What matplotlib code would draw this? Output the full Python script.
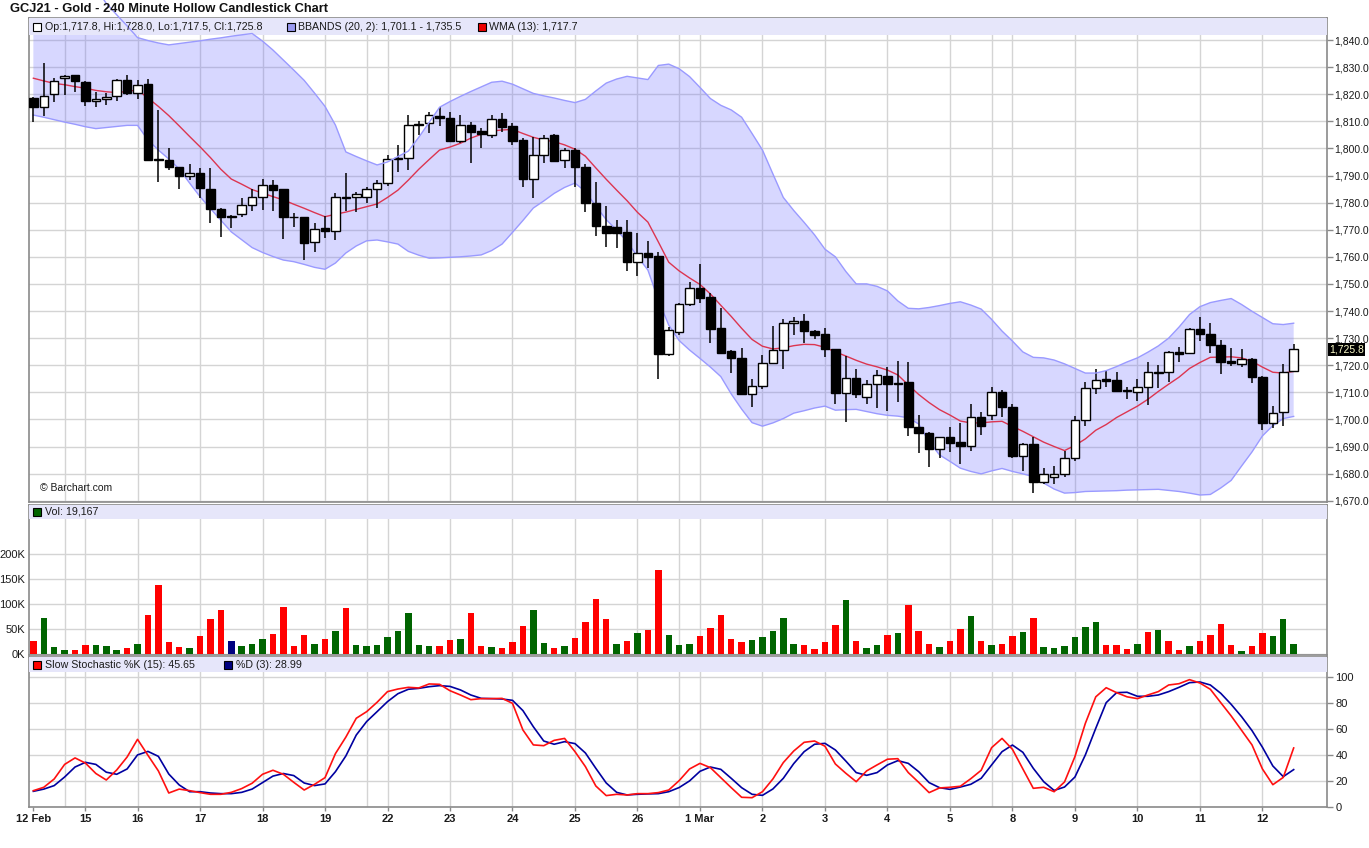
import matplotlib
matplotlib.use('Agg')
import matplotlib.pyplot as plt
from matplotlib.patches import Rectangle
from matplotlib.transforms import blended_transform_factory
from matplotlib.ticker import FuncFormatter, FixedLocator
import numpy as np

plt.rcParams['font.family'] = ['Liberation Sans', 'DejaVu Sans']

# ---------------- data ----------------
opens = [1818.5,1815.2,1820.0,1825.9,1827.0,1824.5,1817.5,1818.1,1819.4,1825.2,
 1820.6,1823.8,1795.8,1795.7,1793.0,1789.9,1790.8,1785.0,1777.5,1774.8,
 1775.7,1779.0,1782.2,1786.5,1784.9,1774.8,1774.6,1765.4,1770.5,1769.5,
 1782.2,1782.1,1782.0,1784.9,1787.1,1796.3,1796.3,1808.9,1809.3,1812.0,
 1811.1,1802.8,1808.5,1806.4,1804.8,1810.7,1808.3,1803.1,1788.8,1797.4,
 1804.9,1795.6,1799.4,1793.0,1779.7,1771.4,1771.0,1769.0,1758.2,1761.3,
 1760.3,1724.1,1732.4,1742.5,1748.4,1745.2,1733.6,1725.2,1722.5,1709.3,
 1712.5,1720.7,1725.6,1735.6,1736.3,1732.6,1731.4,1725.9,1709.6,1715.3,
 1708.3,1712.9,1716.0,1713.3,1713.7,1697.2,1695.0,1689.2,1693.4,1691.6,
 1690.3,1700.8,1701.5,1710.2,1704.7,1686.6,1690.9,1677.0,1678.9,1679.7,
 1685.6,1699.7,1711.5,1714.8,1714.5,1710.9,1710.2,1711.8,1717.2,1717.4,
 1724.9,1724.4,1733.2,1731.5,1727.3,1721.4,1720.4,1722.4,1715.5,1698.6,
 1702.8,1717.8]
highs = [1819.1,1831.6,1825.9,1827.1,1827.0,1824.9,1820.9,1820.6,1825.6,1827.1,
 1825.2,1825.6,1814.2,1800.0,1793.2,1794.2,1792.7,1792.7,1777.9,1775.4,
 1781.8,1784.9,1788.7,1788.3,1785.0,1776.2,1774.8,1772.4,1775.1,1783.7,
 1790.8,1784.0,1785.9,1788.3,1797.6,1801.3,1812.3,1810.2,1813.3,1815.2,
 1813.3,1812.3,1809.9,1807.4,1812.3,1812.9,1809.3,1803.7,1804.1,1804.9,
 1805.2,1800.0,1800.0,1794.2,1787.7,1778.7,1773.6,1773.6,1768.7,1765.8,
 1761.9,1734.2,1743.1,1750.8,1757.3,1746.5,1741.0,1725.6,1726.2,1714.8,
 1723.8,1734.5,1736.9,1737.9,1738.9,1733.0,1733.8,1725.9,1723.4,1718.6,
 1714.5,1718.2,1719.2,1721.6,1721.1,1701.6,1695.2,1693.6,1697.3,1698.6,
 1705.7,1702.8,1712.1,1710.8,1705.7,1691.2,1693.6,1681.9,1682.8,1688.5,
 1701.3,1713.8,1718.5,1717.8,1717.5,1712.1,1714.8,1721.3,1720.1,1725.3,
 1726.8,1733.6,1737.9,1735.5,1729.3,1726.2,1726.0,1722.7,1715.9,1705.1,
 1720.3,1728.0]
lows = [1809.9,1812.1,1817.2,1819.7,1820.9,1815.6,1815.4,1816.0,1817.6,1819.7,
 1818.2,1795.5,1787.7,1792.0,1784.9,1788.3,1781.6,1772.4,1767.4,1770.5,
 1774.8,1777.0,1777.3,1777.0,1766.5,1771.1,1758.8,1761.9,1766.8,1766.2,
 1777.0,1776.5,1780.0,1778.1,1786.1,1791.4,1792.0,1804.9,1805.6,1808.4,
 1802.5,1802.1,1794.5,1800.3,1803.9,1806.2,1801.3,1785.9,1781.8,1794.5,
 1795.1,1792.7,1785.6,1776.6,1767.8,1763.7,1763.1,1754.9,1753.0,1755.8,
 1714.8,1723.5,1731.1,1741.8,1743.1,1728.1,1724.1,1717.0,1709.3,1704.5,
 1711.1,1720.7,1718.6,1731.1,1728.3,1729.6,1723.1,1705.7,1699.2,1707.8,
 1705.7,1704.1,1703.2,1706.5,1693.9,1687.5,1682.6,1685.9,1688.1,1683.4,
 1688.5,1694.2,1699.8,1701.0,1685.6,1681.0,1672.9,1676.2,1676.2,1678.9,
 1684.8,1697.7,1709.4,1712.1,1710.2,1707.6,1706.9,1705.3,1711.5,1713.9,
 1721.3,1724.1,1728.9,1724.6,1716.6,1719.7,1719.2,1713.3,1696.1,1696.7,
 1697.7,1717.5]
closes = [1815.4,1819.4,1824.9,1826.6,1824.8,1817.6,1818.2,1818.9,1825.2,1820.6,
 1823.3,1795.7,1796.0,1793.2,1789.9,1790.9,1785.3,1777.7,1774.8,1775.0,
 1779.0,1782.2,1786.4,1784.6,1774.8,1774.6,1765.2,1770.1,1769.4,1782.2,
 1781.8,1783.1,1784.9,1787.1,1796.0,1796.0,1808.5,1808.5,1812.3,1811.1,
 1802.8,1808.5,1806.2,1805.2,1810.7,1808.0,1802.8,1788.8,1797.4,1803.7,
 1795.5,1799.3,1793.0,1779.7,1771.5,1768.9,1768.9,1758.2,1761.3,1759.8,
 1724.1,1733.0,1742.6,1748.4,1744.7,1733.5,1724.6,1722.8,1709.3,1712.5,
 1720.7,1725.6,1735.5,1736.4,1732.5,1731.0,1725.9,1709.9,1715.2,1709.3,
 1712.9,1716.3,1712.9,1712.9,1697.3,1694.8,1689.2,1693.4,1691.4,1690.3,
 1700.8,1697.7,1710.2,1704.5,1686.6,1690.8,1677.0,1679.7,1679.7,1685.6,
 1699.7,1711.5,1714.5,1714.2,1710.6,1710.6,1711.8,1717.4,1717.4,1724.8,
 1724.1,1733.2,1731.4,1727.3,1721.3,1720.9,1722.4,1715.5,1698.6,1702.5,
 1717.4,1725.8]

bb_upper = [1882.4,1878.7,1875.1,1871.4,1867.7,1864.0,1859.2,1853.5,1849.3,1845.2,
 1840.9,1839.8,1838.9,1838.2,1838.7,1839.2,1839.7,1840.3,1840.8,1841.4,
 1841.9,1842.4,1839.6,1836.3,1832.6,1828.9,1825.1,1820.4,1815.5,1808.6,
 1798.7,1797.0,1795.4,1793.9,1795.0,1797.0,1799.0,1804.1,1809.6,1815.2,
 1817.3,1819.2,1821.0,1822.7,1824.4,1824.8,1823.7,1822.0,1820.3,1819.4,
 1818.6,1817.7,1816.9,1818.1,1821.2,1824.1,1825.6,1826.6,1826.0,1825.4,
 1830.6,1831.1,1829.4,1826.5,1822.5,1818.4,1815.9,1814.2,1811.5,1805.5,
 1799.4,1790.6,1781.9,1777.1,1772.7,1768.1,1762.8,1760.0,1754.6,1750.0,
 1750.0,1749.1,1747.4,1743.7,1741.0,1740.8,1741.3,1742.0,1742.8,1743.4,
 1742.2,1740.7,1736.9,1732.6,1728.9,1724.9,1722.9,1722.7,1721.9,1720.5,
 1718.8,1717.1,1717.1,1718.0,1719.5,1721.2,1722.7,1724.8,1727.1,1730.0,
 1734.1,1738.7,1741.6,1743.1,1743.9,1744.6,1742.4,1739.9,1737.6,1735.3,
 1735.0,1735.5]
bb_lower = [1812.3,1811.5,1810.6,1809.7,1808.9,1808.0,1807.3,1807.7,1808.1,1808.5,
 1808.5,1803.1,1799.4,1796.1,1792.4,1787.2,1782.2,1777.8,1773.5,1769.2,
 1766.3,1763.4,1761.6,1760.1,1758.8,1758.2,1757.2,1756.1,1755.4,1757.7,
 1761.4,1764.0,1765.9,1766.2,1765.5,1764.7,1762.0,1760.6,1759.5,1759.6,
 1759.8,1760.0,1760.3,1760.7,1762.3,1764.7,1769.0,1773.4,1778.0,1780.6,
 1783.4,1785.6,1787.2,1784.1,1778.7,1773.7,1769.9,1765.6,1760.1,1755.1,
 1744.1,1734.8,1729.1,1725.6,1722.5,1719.3,1715.8,1709.4,1703.8,1698.8,
 1697.5,1698.7,1700.3,1702.3,1703.2,1704.2,1704.9,1703.4,1703.6,1703.7,
 1702.9,1702.1,1701.5,1701.2,1700.6,1698.3,1691.7,1686.9,1684.5,1682.0,
 1680.8,1679.9,1681.0,1681.9,1680.8,1679.9,1678.9,1676.5,1674.3,1672.8,
 1673.0,1673.4,1673.5,1673.6,1673.7,1673.9,1674.0,1674.1,1674.2,1673.8,
 1673.4,1672.8,1672.1,1672.3,1674.7,1677.5,1682.8,1688.0,1693.9,1697.7,
 1700.3,1701.1]
wma13 = [1825.9,1824.9,1824.0,1823.5,1822.8,1822.2,1821.4,1820.9,1820.6,1821.0,
 1821.6,1818.6,1815.5,1812.1,1808.3,1804.4,1800.6,1796.6,1792.3,1788.7,
 1786.8,1784.8,1783.5,1782.2,1781.0,1779.4,1777.9,1776.3,1774.8,1775.7,
 1776.5,1777.5,1778.5,1779.5,1781.9,1784.6,1788.3,1792.3,1795.9,1799.4,
 1800.5,1801.9,1803.8,1805.2,1806.4,1806.8,1807.0,1805.5,1804.1,1803.1,
 1802.5,1801.3,1799.7,1797.1,1792.8,1788.6,1784.6,1780.7,1776.4,1772.8,
 1765.5,1758.0,1754.8,1752.2,1749.8,1746.3,1742.1,1738.0,1733.6,1729.5,
 1727.0,1726.0,1726.4,1727.2,1727.7,1727.6,1726.6,1724.9,1723.4,1721.8,
 1720.4,1719.4,1718.2,1716.4,1712.7,1709.2,1706.2,1703.6,1701.6,1699.4,
 1698.7,1698.7,1699.1,1699.3,1697.4,1695.6,1693.6,1691.6,1690.0,1688.5,
 1690.4,1692.8,1696.0,1698.1,1700.7,1702.8,1704.9,1707.4,1710.3,1713.0,
 1715.6,1718.8,1721.0,1722.9,1723.0,1723.1,1722.7,1721.4,1719.3,1717.4,
 1717.1,1717.7]

volume_k = [26,72,14,8,8,18,18,16,8,12, 20,78,138,24,15,12,36,70,88,26,
 16,20,30,40,94,16,38,20,30,46, 92,18,16,18,34,46,82,18,16,16,
 28,30,82,16,14,12,24,56,88,22, 12,16,32,64,110,70,20,26,42,48,
 168, 38,18,20,36,52,78,30,24,28, 34,46,72,20,18,10,24,58,108,26,
 12,18,38,42,98,46,20,14,26,50, 76,26,18,20,36,44,72,14,12,16,
 34,54,64,18,18,10,20,44,48,26, 8,16,26,38,60,18,6,16,42,36, 70,19.2]
# u = up (green), d = down (red), n = unchanged (navy)
volume_dir = ("duuudduuud" "uddddudddn" "uuuddddudu" "duuuuuuuud" "duddudddu u".replace(" ", "")
              + "duddddudud" "d" "uuudddddu" "u" "uuuddddudu" "ududddudd" "u"
              + "dudduduuuu" "uudddudud" "d" "udddduddu" "uu")

stoch_k = [12.8,15.4,21.8,33,38,34,26,21,28.7,38.7, 52.3,40,28,11,14,12.8,11.3,10,10,11.5,
 14.4,18.5,25.4,28.5,25.4,19.2,13.3,17.7,22.8,41.3, 54,68.5,73.6,80.8,89,91,92.3,91.8,94.9,94.6,
 89.7,86.4,82.8,83.6,83.6,83.8,80,59.5,48,47.4, 51.5,53,42.8,31.3,16.4,9,10,9.5,10.5,10.5,
 11.3,13.3,20.5,
 29.5,33.8,30.5,22.8,15.1,7.7,7.4,12,21.8,34.4, 43.3,50,51,47,33.3,26.2,19.7,28,32.6,37,
 37.4,26.7,19.2,11.3,14.9,15.4,16.2,22,28.5,45.9, 53,44.6,29.5,14.6,15.4,12,19.5,39,64.6,85,
 92,88.2,85,83.6,86.4,89,94.1,95.1,98.2,95.6, 90.8,80.5,70.3,59.2,48,29.5,17.4,23,45.65]
stoch_d = [12.3,14,16.7,23.3,31,34.6,33,27,25.4,29.5, 40.3,43,39.2,25.6,17.2,12,12,11,10.5,10.5,
 11.5,14,19,24,26,24.4,18.7,16.7,18,27.4, 39.5,55.6,66,73.6,81.3,87.4,90.8,91.5,92.8,93.6,
 93,90.3,86.4,83.8,83.6,83.3,82.3,74.4,62,51, 48.5,50.5,49,41.8,30,18.7,11.5,9.5,10,10.3,
 10.5,12,15.2,
 20.3,27.7,31,29.2,22.3,15.1,10,9.2,14.1,22.3, 33.6,42.8,48.5,49.2,44.1,35.6,26.7,24.6,26.7,32.6,
 35.9,33.8,27.4,19,15.1,13.8,15.6,17.7,22.3,32.6, 42.8,47.9,42.3,30,19.7,13,15.6,23.3,40.3,60.8,
 80.5,88.2,88.5,85.4,85.4,86.4,89,92.3,95.9,96.4, 94.1,87.7,79.2,69.7,59,46.2,31.8,23.6,28.99]

day_labels = ['12 Feb','15','16','17','18','19','22','23','24','25','26',
              '1 Mar','2','3','4','5','8','9','10','11','12']
day_index = [0,5,10,16,22,28,34,40,46,52,58,64,70,76,82,88,94,100,106,112,118]
extra_grid_index = [3,32,62,92]

n = len(closes)
for arr in (opens, highs, lows, bb_upper, bb_lower, wma13, volume_k, stoch_k, stoch_d):
    assert len(arr) == n, len(arr)
assert len(volume_dir) == n, len(volume_dir)

# ---------------- layout ----------------
W, H = 1369, 848
fig = plt.figure(figsize=(W/100, H/100), dpi=100)
fig.patch.set_facecolor('white')

def rect(l, t, r, b):
    return [l/W, 1-b/H, (r-l)/W, (b-t)/H]

def px(x, y):
    return (x/W, 1-y/H)

ax1 = fig.add_axes(rect(29, 18, 1327, 502.3))
ax2 = fig.add_axes(rect(29, 505, 1327, 654.5))
ax3 = fig.add_axes(rect(29, 657.3, 1327, 807.3))

GRID = '#d4d4d4'
SPINE = '#8a8a8a'
TXT = '#1a1a1a'
STRIP = '#e6e6fa'
x = np.arange(n)
XLIM = (-0.42, 124.2)

for ax in (ax1, ax2, ax3):
    ax.set_xlim(*XLIM)
    for s in ax.spines.values():
        s.set_color(SPINE)
        s.set_linewidth(1.2)
    for d in day_index[1:] + extra_grid_index:
        ax.axvline(d, color=GRID, lw=1.0, zorder=0.5)

def strip(ax, frac):
    ax.add_patch(Rectangle((0, frac), 1, 1-frac, transform=ax.transAxes,
                           facecolor=STRIP, edgecolor='none', zorder=4))

# ---------- price panel ----------
ax1.set_ylim(1669.41, 1848.12)
for v in range(1670, 1850, 10):
    ax1.axhline(v, color=GRID, lw=1.0, zorder=0.5)
strip(ax1, 1-17/484.3)
ax1.fill_between(x, bb_lower, bb_upper, facecolor='#7070ff', alpha=0.28, lw=0, zorder=1)
ax1.plot(x, bb_lower, color='#9a9aff', lw=1.0, zorder=1.2)
ax1.plot(x, bb_upper, color='#9a9aff', lw=1.0, zorder=6, clip_on=False)
ax1.plot(x, wma13, color='#dc3550', lw=1.0, zorder=2)

o = np.array(opens); c = np.array(closes)
ax1.vlines(x, lows, highs, color='black', lw=1.1, zorder=2.5)
face = ['black' if cc < oo else 'white' for oo, cc in zip(o, c)]
ax1.bar(x, np.abs(c-o), bottom=np.minimum(o, c), width=0.82, color=face,
        edgecolor='black', linewidth=1.0, zorder=3)

ax1.yaxis.tick_right()
ax1.yaxis.set_major_locator(FixedLocator(list(range(1670, 1850, 10))))
ax1.yaxis.set_major_formatter(FuncFormatter(lambda v, p: f'{v:,.1f}'))
ax1.tick_params(axis='y', length=4, width=1, color=SPINE, labelsize=7.5, labelcolor=TXT, pad=1.5)
ax1.tick_params(axis='x', length=0, labelbottom=False)

tr = blended_transform_factory(ax1.transAxes, ax1.transData)
ax1.text(1.0015, closes[-1], f'{closes[-1]:,.1f}', transform=tr, va='center', ha='left',
         fontsize=7.5, color='#ffffcc', zorder=10, clip_on=False,
         bbox=dict(boxstyle='square,pad=0.12', fc='black', ec='none'))
fig.text(*px(40, 488), '\u00a9 Barchart.com', fontsize=7.5, color=TXT, va='center', ha='left')

# ---------- volume panel ----------
ax2.set_ylim(-1, 299)
for v in range(0, 201, 50):
    ax2.axhline(v, color=GRID, lw=1.0, zorder=0.5)
strip(ax2, 1-14/149.5)
vcol = {'u': '#006400', 'd': '#ff0000', 'n': '#000080'}
ax2.bar(x, volume_k, width=0.62, color=[vcol[ch] for ch in volume_dir], zorder=2)
ax2.yaxis.set_major_locator(FixedLocator([0, 50, 100, 150, 200]))
ax2.yaxis.set_major_formatter(FuncFormatter(lambda v, p: f'{int(v)}K'))
ax2.tick_params(axis='y', length=0, labelsize=8, labelcolor=TXT, pad=3)
ax2.tick_params(axis='x', length=0, labelbottom=False)

# ---------- stochastic panel ----------
ax3.set_ylim(0, 115.4)
for v in range(0, 101, 20):
    ax3.axhline(v, color=GRID, lw=1.0, zorder=0.5)
strip(ax3, 1-14.4/150)
ax3.plot(x, stoch_k, color='#ff1010', lw=1.2, zorder=3)
ax3.plot(x, stoch_d, color='#0000a0', lw=1.2, zorder=2.8)
ax3.yaxis.tick_right()
ax3.yaxis.set_major_locator(FixedLocator([0, 20, 40, 60, 80, 100]))
ax3.tick_params(axis='y', length=4, width=1, color=SPINE, labelsize=8, labelcolor=TXT, pad=2)
ax3.set_xticks(day_index)
ax3.set_xticklabels(day_labels, fontweight='bold', fontsize=8, color=TXT)
ax3.tick_params(axis='x', length=3, width=1, color=SPINE, pad=2)

# ---------- title & legends ----------
fig.text(*px(10, 8.5), 'GCJ21 - Gold - 240 Minute Hollow Candlestick Chart',
         fontsize=9.3, fontweight='bold', color='#111111', va='center', ha='left')

def key(cx, cy, color):
    fig.add_artist(Rectangle(px(cx-4, cy+4), 8/W, 8/H, transform=fig.transFigure,
                             facecolor=color, edgecolor='black', lw=0.8, zorder=5))

def label(x0, y0, s):
    fig.text(*px(x0, y0), s, fontsize=7.7, color=TXT, va='center', ha='left', zorder=6)

key(37, 27, 'white')
label(45, 27, f'Op:{opens[-1]:,.1f}, Hi:{highs[-1]:,.1f}, Lo:{lows[-1]:,.1f}, Cl:{closes[-1]:,.1f}')
key(291, 27, '#9999f0')
label(298, 27, f'BBANDS (20, 2): {bb_lower[-1]:,.1f} - {bb_upper[-1]:,.1f}')
key(482, 27, '#ee0000')
label(489, 27, f'WMA (13): {wma13[-1]:,.1f}')

key(37, 512, '#006400')
label(45, 512, 'Vol: 19,167')

key(37, 665, '#ff0000')
label(45, 665, f'Slow Stochastic %K (15): {stoch_k[-1]:.2f}')
key(228, 665, '#000080')
label(236, 665, f'%D (3): {stoch_d[-1]:.2f}')

fig.savefig('out.png', dpi=100, facecolor='white')
